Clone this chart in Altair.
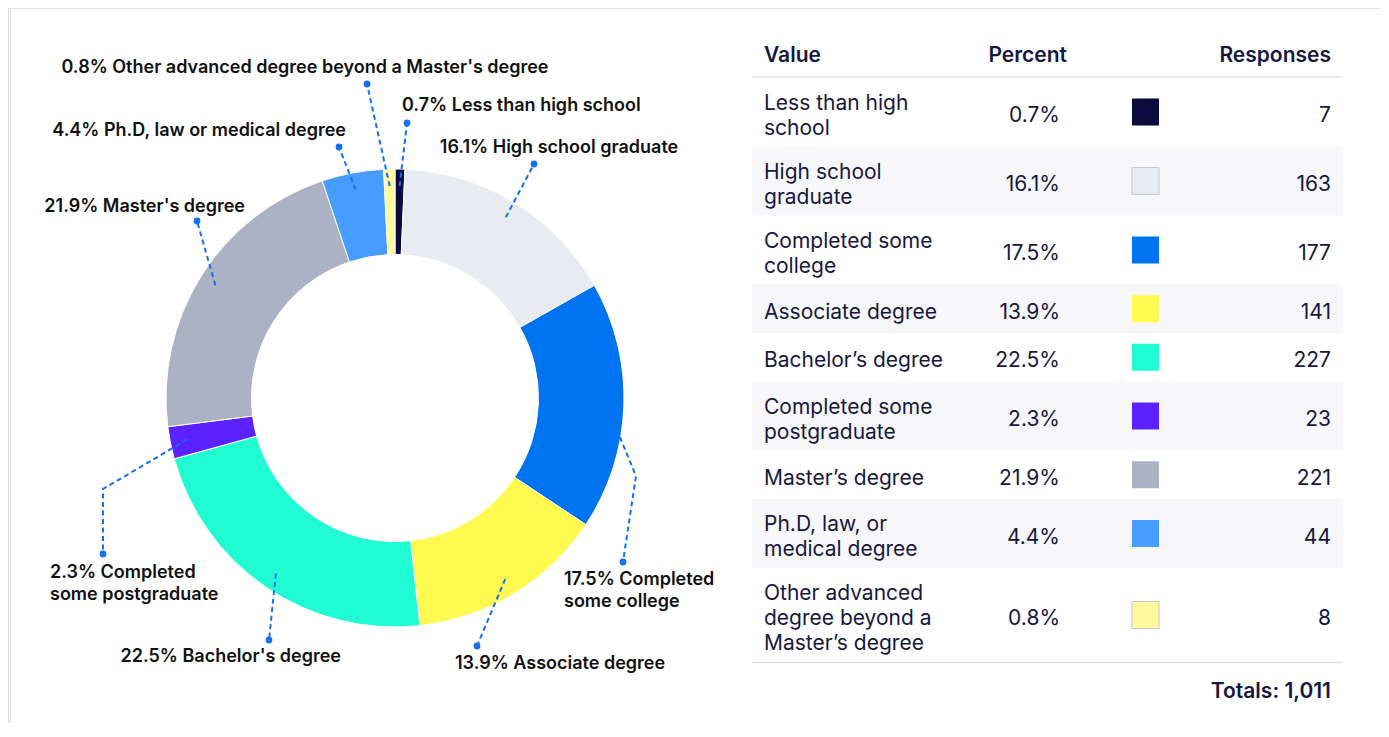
import math
import altair as alt
import pandas as pd

# ---------------- data ----------------
categories = [
    "Less than high school", "High school graduate", "Completed some college",
    "Associate degree", "Bachelor’s degree", "Completed some postgraduate",
    "Master’s degree", "Ph.D, law, or medical degree",
    "Other advanced degree beyond a Master’s degree",
]
table_lines = [
    ["Less than high", "school"], ["High school", "graduate"],
    ["Completed some", "college"], ["Associate degree"], ["Bachelor’s degree"],
    ["Completed some", "postgraduate"], ["Master’s degree"],
    ["Ph.D, law, or", "medical degree"],
    ["Other advanced", "degree beyond a", "Master’s degree"],
]
percents = [0.7, 16.1, 17.5, 13.9, 22.5, 2.3, 21.9, 4.4, 0.8]
responses = [7, 163, 177, 141, 227, 23, 221, 44, 8]
colors = ["#0b0b40", "#e8ecf1", "#0073f0", "#fffa50", "#20fbd3",
          "#5b21ff", "#abb2c3", "#479cff", "#fffb9e"]
chart_labels = [
    ["Less than high school"], ["High school graduate"],
    ["Completed", "some college"], ["Associate degree"], ["Bachelor's degree"],
    ["Completed", "some postgraduate"], ["Master's degree"],
    ["Ph.D, law or medical degree"],
    ["Other advanced degree beyond a Master's degree"],
]
headers = ["Value", "Percent", "Responses"]
light_swatches = ["High school graduate",
                  "Other advanced degree beyond a Master’s degree"]

# ---------------- layout ----------------
W, H = 1373, 715
M = 8
CX, CY = 395, 398
R_IN, R_OUT, R_START = 143.5, 229, 212
BLUE = "#1570ef"
INK = "#17173f"
FONT = "Inter"
LABEL_SIZE = 18
TABLE_SIZE = 21

# label layout: dot offset from centre, optional elbow, text offset from dot, align
label_layout = [
    dict(dot=(12, -275), text=(-5, -17), align="left"),
    dict(dot=(139, -234), text=(25, -16), align="center"),
    dict(dot=(228, 164), elbow=(241, 78), text=(-59, 18), align="left"),
    dict(dot=(82, 248), text=(-22, 18), align="left"),
    dict(dot=(-126, 242), text=(72, 17), align="right"),
    dict(dot=(-292, 156), elbow=(-292, 91), text=(-53, 19), align="left"),
    dict(dot=(-198, -177), text=(48, -14), align="right"),
    dict(dot=(-56, -251), text=(7, -16), align="right"),
    dict(dot=(-28, -314), text=(-62, -16), align="center"),
]
LABEL_LH = 22

TX0, TX1 = 752, 1343
VALUE_X, PCT_X, RESP_X = 764, 1060, 1331
SW_X0, SW = 1132, 27
HEADER_Y, HEADER_LINE_Y = 56, 77
LINE_H = 25
TEXT_DY = 4

xs = alt.Scale(domain=[M, M + W])
ys = alt.Scale(domain=[M, M + H], reverse=True)
X = lambda f: alt.X(f, type="quantitative", scale=xs, axis=None)
Y = lambda f: alt.Y(f, type="quantitative", scale=ys, axis=None)
X2 = lambda f: alt.X2(f)
Y2 = lambda f: alt.Y2(f)
cscale = alt.Scale(domain=categories, range=colors)

# ---------------- derived tables ----------------
rows, line_rows = [], []
top = HEADER_LINE_Y + 0.5
for i, cat in enumerate(categories):
    n = len(table_lines[i])
    h = max(48.5, 19 + LINE_H * n)
    c = top + h / 2
    rows.append(dict(idx=i, category=cat, top=top, bottom=top + h, center=c,
                     tcenter=c + TEXT_DY, pct=f"{percents[i]}%",
                     resp=str(responses[i]), x0=TX0, x1=TX1,
                     sx0=SW_X0, sx1=SW_X0 + SW, sy0=c - SW / 2, sy1=c + SW / 2,
                     pctx=PCT_X, respx=RESP_X, bg=(i % 2 == 1)))
    for j, t in enumerate(table_lines[i]):
        line_rows.append(dict(text=t, x=VALUE_X,
                              y=c + TEXT_DY + (j - (n - 1) / 2) * LINE_H))
    top += h
df_rows = pd.DataFrame(rows)
df_lines = pd.DataFrame(line_rows)
table_bottom = top

df_head = pd.DataFrame([
    dict(text=headers[0], x=VALUE_X, y=HEADER_Y, align="left"),
    dict(text=headers[1], x=PCT_X + 7, y=HEADER_Y, align="right"),
    dict(text=headers[2], x=RESP_X, y=HEADER_Y, align="right"),
    dict(text=f"Totals: {sum(responses):,}", x=RESP_X, y=table_bottom + 30,
         align="right"),
])
df_hlines = pd.DataFrame([
    dict(x0=TX0, x1=TX1, y=HEADER_LINE_Y),
    dict(x0=TX0, x1=TX1, y=table_bottom + 0.5),
])

df_donut = pd.DataFrame(dict(idx=range(len(categories)), category=categories,
                             responses=responses))

total = sum(responses)
lead, dots, ltxt = [], [], []
cum = 0
for i, r in enumerate(responses):
    mid = (cum + r / 2) / total * 2 * math.pi
    cum += r
    lay = label_layout[i]
    pts = [(CX + R_START * math.sin(mid), CY - R_START * math.cos(mid))]
    if "elbow" in lay:
        pts.append((CX + lay["elbow"][0], CY + lay["elbow"][1]))
    dx, dy = CX + lay["dot"][0], CY + lay["dot"][1]
    pts.append((dx, dy))
    for s, (px, py) in enumerate(pts):
        lead.append(dict(lab=i, seq=s, x=px, y=py))
    dots.append(dict(x=dx, y=dy))
    for j, t in enumerate(chart_labels[i]):
        text = f"{percents[i]}% {t}" if j == 0 else t
        ltxt.append(dict(text=text, x=dx + lay["text"][0],
                         y=dy + lay["text"][1] + j * LABEL_LH,
                         align=lay["align"]))
df_lead = pd.DataFrame(lead)
df_dots = pd.DataFrame(dots)
df_ltxt = pd.DataFrame(ltxt)

df_frame = pd.DataFrame([dict(x0=10.5, x1=1383.5, y0=8.5, y1=M + H + 40)])

# ---------------- layers ----------------
frame = alt.Chart(df_frame).mark_rect(fill=None, stroke="#e2e3ea",
                                      strokeWidth=1, clip=True).encode(
    x=X("x0"), x2=X2("x1"), y=Y("y0"), y2=Y2("y1"))

row_bg = alt.Chart(df_rows).transform_filter("datum.bg").mark_rect(
    color="#f7f7f9").encode(x=X("x0"), x2=X2("x1"), y=Y("top"), y2=Y2("bottom"))

hlines = alt.Chart(df_hlines).mark_rule(color="#e1e4ea", strokeWidth=1.5).encode(
    x=X("x0"), x2=X2("x1"), y=Y("y"))


def texts(df, align, size, weight, color, field_x="x", field_y="y", field_t="text"):
    ch = alt.Chart(df)
    if "align" in df.columns:
        ch = ch.transform_filter(alt.datum.align == align)
    return ch.mark_text(align=align, baseline="middle", font=FONT,
                        fontSize=size, fontWeight=weight, color=color).encode(
        x=X(field_x), y=Y(field_y), text=alt.Text(f"{field_t}:N"))


head_layers = [texts(df_head, a, TABLE_SIZE, 600, INK) for a in ("left", "right")]
value_text = texts(df_lines, "left", TABLE_SIZE, 400, INK)
pct_text = texts(df_rows, "right", TABLE_SIZE, 400, INK, "pctx", "tcenter", "pct")
resp_text = texts(df_rows, "right", TABLE_SIZE, 400, INK, "respx", "tcenter", "resp")

swatch = alt.Chart(df_rows).mark_rect().encode(
    x=X("sx0"), x2=X2("sx1"), y=Y("sy0"), y2=Y2("sy1"),
    color=alt.Color("category:N", scale=cscale, legend=None))
swatch_border = alt.Chart(df_rows).transform_filter(
    alt.FieldOneOfPredicate(field="category", oneOf=light_swatches)
).mark_rect(fill=None, stroke="#c4c8d0", strokeWidth=1).encode(
    x=X("sx0"), x2=X2("sx1"), y=Y("sy0"), y2=Y2("sy1"))

donut = alt.Chart(df_donut).mark_arc(
    innerRadius=R_IN, outerRadius=R_OUT, stroke="white", strokeWidth=1).encode(
    theta=alt.Theta("responses:Q", stack=True),
    color=alt.Color("category:N", scale=cscale, legend=None),
    order=alt.Order("idx:Q"),
    x=alt.value(CX - M), y=alt.value(CY - M))

leaders = alt.Chart(df_lead).mark_line(
    color=BLUE, strokeWidth=2, strokeDash=[5, 3.5]).encode(
    x=X("x"), y=Y("y"), detail="lab:N", order="seq:Q")
dot_layer = alt.Chart(df_dots).mark_circle(color=BLUE, size=46, opacity=1).encode(
    x=X("x"), y=Y("y"))
label_layers = [texts(df_ltxt, a, LABEL_SIZE, 600, "#111111")
                for a in ("left", "right", "center")]

chart = alt.layer(
    frame, row_bg, hlines, *head_layers, value_text, pct_text, resp_text,
    swatch, swatch_border, donut, leaders, dot_layer, *label_layers,
).properties(width=W, height=H, padding=0, autosize="none").configure_view(
    stroke=None).configure(background="white")

chart.save("out.html", embed_options={"renderer": "svg", "actions": False})
